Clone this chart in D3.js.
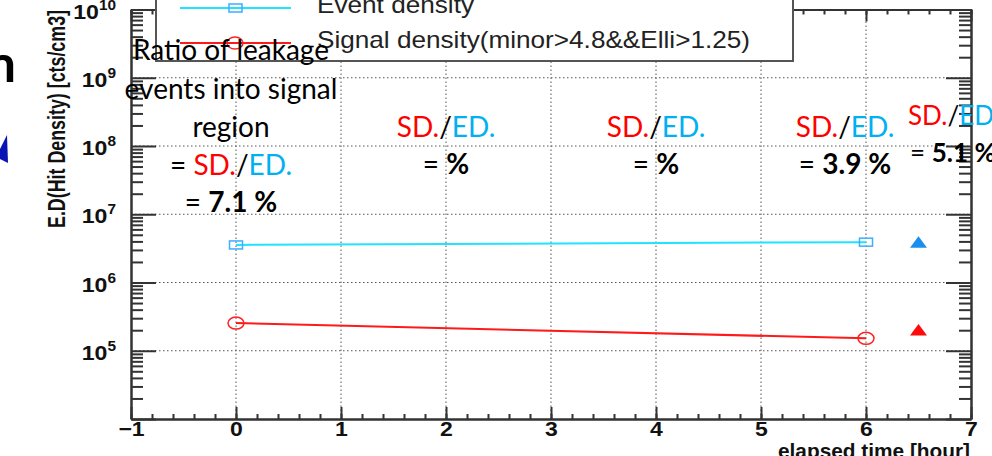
<!DOCTYPE html>
<html lang="en">
<head>
    <meta charset="UTF-8">
    <title>Event / signal density vs elapsed time</title>
    <style>
        body { margin: 0; padding: 0; background: #fff; overflow: hidden; }
        svg { display: block; }
        .root-text { font-family: "Liberation Sans", Arial, sans-serif; font-weight: bold; fill: #111; }
        .note { font-family: Lato, "Open Sans", sans-serif; font-size: 28px; fill: #000; }
        .grid line { stroke: #555; stroke-width: 1; stroke-dasharray: 1.5 2.5; }
        .frame path, .frame line { stroke: #333; stroke-width: 2; }
    </style>
</head>
<body>
<svg id="chart" width="992" height="456"></svg>
<script src="https://d3js.org/d3.v7.min.js"></script>
<script>
    // data
    const times = [0, 6];
    const eventDensity = [3.55e6, 3.9e6];
    const signalDensity = [2.54e5, 1.52e5];
    const laterTime = [6.5];
    const laterEvent = [3.88e6];
    const laterSignal = [2.02e5];

    const xTicks = [-1, 0, 1, 2, 3, 4, 5, 6, 7];
    const yExponents = [5, 6, 7, 8, 9, 10];
    const legendLabels = ["Event density", "Signal density(minor>4.8&&Elli>1.25)"];
    const noteTimes = [0, 2, 4, 5.8];
    const ratios = ["7.1", "", "", "3.9"];
    const lastRatio = "5.1";

    const svg = d3.select("#chart");
    const x = d3.scaleLinear().domain([-1, 7]).range([131, 971]);
    const y = d3.scaleLog().domain([1e4, 1e10]).range([419, 9.5]);

    const minorX = d3.range(-10, 71, 2).map(d => d / 10);
    const minorY = [];
    for (let e = 4; e < 10; e++) {
        for (let m = 2; m <= 9; m++) minorY.push(m * Math.pow(10, e));
    }

    // grid
    const grid = svg.append("g").attr("class", "grid");
    grid.selectAll(".gx").data(xTicks.slice(1, -1)).enter().append("line")
        .attr("x1", d => x(d)).attr("x2", d => x(d))
        .attr("y1", y(1e4)).attr("y2", y(1e10));
    grid.selectAll(".gy").data(yExponents.slice(0, -1)).enter().append("line")
        .attr("x1", x(-1)).attr("x2", x(7))
        .attr("y1", d => y(Math.pow(10, d))).attr("y2", d => y(Math.pow(10, d)));

    // series
    const line = d3.line().x(d => x(d[0])).y(d => y(d[1]));
    const eventPts = times.map((t, i) => [t, eventDensity[i]]);
    const signalPts = times.map((t, i) => [t, signalDensity[i]]);

    svg.append("path").datum(eventPts).attr("d", line)
        .attr("fill", "none").attr("stroke", "#1fe3ff").attr("stroke-width", 2);
    svg.append("path").datum(signalPts).attr("d", line)
        .attr("fill", "none").attr("stroke", "#ff1a1a").attr("stroke-width", 2);

    svg.selectAll(".sq").data(eventPts).enter().append("rect")
        .attr("x", d => x(d[0]) - 6.5).attr("y", d => y(d[1]) - 4)
        .attr("width", 13).attr("height", 8)
        .attr("fill", "none").attr("stroke", "#3aaeff").attr("stroke-width", 1.5);
    svg.selectAll(".ci").data(signalPts).enter().append("ellipse")
        .attr("cx", d => x(d[0])).attr("cy", d => y(d[1]))
        .attr("rx", 8).attr("ry", 6)
        .attr("fill", "none").attr("stroke", "#ff2020").attr("stroke-width", 1.5);

    const tri = (cx, cy, c) => svg.append("path")
        .attr("d", `M${cx - 8.5},${cy + 5.5}L${cx + 8.5},${cy + 5.5}L${cx},${cy - 6}Z`)
        .attr("fill", c);
    laterTime.forEach((t, i) => {
        tri(x(t), y(laterEvent[i]), "#1a8ff0");
        tri(x(t), y(laterSignal[i]), "#ff0a0a");
    });

    // frame and ticks
    const frame = svg.append("g").attr("class", "frame");
    const noLabel = a => a.tickFormat("").tickSizeOuter(0);
    frame.append("g").attr("transform", `translate(0,${y(1e4)})`)
        .call(d3.axisBottom(x).tickValues(minorX).tickSize(-5).tickFormat("").tickSizeOuter(0));
    frame.append("g").attr("transform", `translate(0,${y(1e4)})`)
        .call(d3.axisBottom(x).tickValues(xTicks).tickSize(-12).tickPadding(3).tickSizeOuter(0))
        .call(g => g.selectAll("text").attr("class", "root-text")
            .style("font-size", "20px").attr("transform", "scale(1.15,1)"));
    frame.append("g").attr("transform", `translate(0,${y(1e10)})`)
        .call(noLabel(d3.axisTop(x).tickValues(minorX).tickSize(-5)));
    frame.append("g").attr("transform", `translate(0,${y(1e10)})`)
        .call(noLabel(d3.axisTop(x).tickValues(xTicks).tickSize(-12)));

    const majorY = yExponents.map(e => Math.pow(10, e)).concat([1e4]);
    [[d3.axisLeft, x(-1)], [d3.axisRight, x(7)]].forEach(([ax, px]) => {
        frame.append("g").attr("transform", `translate(${px},0)`)
            .call(noLabel(ax(y).tickValues(minorY).tickSize(-12)));
        frame.append("g").attr("transform", `translate(${px},0)`)
            .call(noLabel(ax(y).tickValues(majorY).tickSize(-25)));
    });
    frame.selectAll("text").filter(function () { return this.textContent === ""; }).remove();

    // y tick labels 10^n
    const ylab = svg.append("g");
    yExponents.forEach(e => {
        const t = ylab.append("text").attr("class", "root-text")
            .attr("transform", `translate(${x(-1) - 15},${y(Math.pow(10, e)) + 9}) scale(1.1,1)`)
            .attr("text-anchor", "end").style("font-size", "21px");
        t.append("tspan").text("10");
        t.append("tspan").attr("dy", -9).style("font-size", "14px").text(e);
    });

    // axis titles
    svg.append("text").attr("class", "root-text")
        .attr("transform", `translate(65,${119}) rotate(-90)`)
        .attr("text-anchor", "middle").style("font-size", "24px")
        .attr("textLength", 218).attr("lengthAdjust", "spacingAndGlyphs")
        .text("E.D(Hit Density) [cts/cm3]");
    svg.append("text").attr("class", "root-text")
        .attr("x", 970).attr("y", 458).attr("text-anchor", "end")
        .style("font-size", "21px")
        .attr("textLength", 192).attr("lengthAdjust", "spacingAndGlyphs")
        .text("elapsed time [hour]");

    // legend
    const legend = svg.append("g");
    legend.append("rect").attr("x", 156).attr("y", -20).attr("width", 637).attr("height", 81)
        .attr("fill", "#fff").attr("stroke", "#555").attr("stroke-width", 2);
    const legY = [8, 43];
    const legCol = ["#1fe3ff", "#ff1a1a"];
    legendLabels.forEach((label, i) => {
        legend.append("line").attr("x1", 180).attr("x2", 291)
            .attr("y1", legY[i]).attr("y2", legY[i])
            .attr("stroke", legCol[i]).attr("stroke-width", 2);
        legend.append("text").attr("x", 317).attr("y", legY[i] + 5)
            .style("font-family", "'Liberation Sans', Arial, sans-serif")
            .style("font-size", "24px").attr("fill", "#222")
            .attr("textLength", i === 0 ? 157 : 433).attr("lengthAdjust", "spacingAndGlyphs")
            .text(label);
    });
    legend.append("rect").attr("x", 229).attr("y", legY[0] - 4).attr("width", 13).attr("height", 8)
        .attr("fill", "none").attr("stroke", "#3aaeff").attr("stroke-width", 1.5);
    legend.append("ellipse").attr("cx", 235).attr("cy", legY[1]).attr("rx", 8).attr("ry", 6)
        .attr("fill", "none").attr("stroke", "#ff2020").attr("stroke-width", 1.5);

    // slide annotations
    const notes = svg.append("g");
    const ratioLine = (t, withEq) => {
        if (withEq) t.append("tspan").text("= ");
        t.append("tspan").attr("fill", "#ff0000").text("SD.");
        t.append("tspan").text("/");
        t.append("tspan").attr("fill", "#00b0f0").text("ED.");
    };
    const valueLine = (t, v) => {
        t.append("tspan").text("= ");
        t.append("tspan").style("font-weight", "bold").text(v === "" ? "%" : v + " %");
    };
    ["Ratio of leakage", "events into signal", "region"].forEach((s, i) => {
        notes.append("text").attr("class", "note").attr("text-anchor", "middle")
            .attr("x", 231).attr("y", 60 + i * 38.5).text(s);
    });
    noteTimes.forEach((t, i) => {
        const cx = i === 0 ? 231 : x(t);
        const base = i === 0 ? 175 : 137;
        ratioLine(notes.append("text").attr("class", "note").attr("text-anchor", "middle")
            .attr("x", cx).attr("y", base), i === 0);
        valueLine(notes.append("text").attr("class", "note").attr("text-anchor", "middle")
            .attr("x", cx).attr("y", base + 37), ratios[i]);
    });
    ratioLine(notes.append("text").attr("class", "note").style("font-size", "26px")
        .attr("x", 908).attr("y", 125), false);
    valueLine(notes.append("text").attr("class", "note").style("font-size", "26px")
        .attr("x", 910).attr("y", 162), lastRatio);

    // pieces of neighbouring slide content
    svg.append("text").attr("x", 16).attr("y", 82).attr("text-anchor", "end")
        .style("font-family", "Lato, sans-serif").style("font-size", "52px").style("font-weight", "bold")
        .text("n");
    svg.append("path").attr("d", "M0,149L7,135L8,163L0,159Z").attr("fill", "#0a14b4");
</script>
</body>
</html>
